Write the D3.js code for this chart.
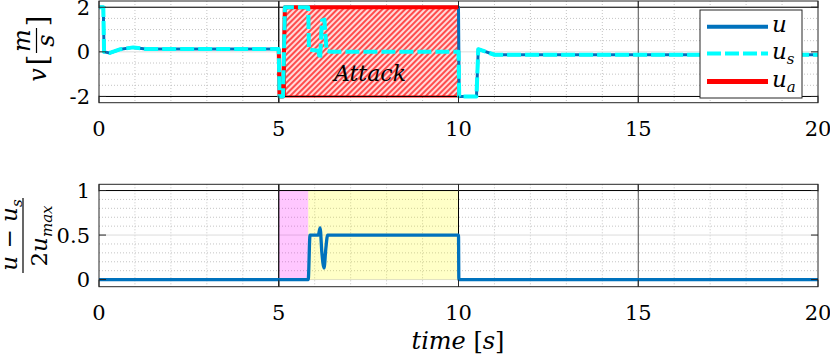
<!DOCTYPE html>
<html>
<head>
<meta charset="utf-8">
<script src="https://cdn.jsdelivr.net/npm/d3@7"></script>
<style>
  html, body { margin: 0; padding: 0; background: #fff; }
  svg { display: block; }
</style>
</head>
<body>
<svg id="chart" width="830" height="359"></svg>
<script>
// time axis
const xTicks = [0, 5, 10, 15, 20];
const xMinor = [1, 2, 3, 4, 6, 7, 8, 9, 11, 12, 13, 14, 16, 17, 18, 19];

// top panel: velocity commands
const vTicks = [-2, 0, 2];
const vMinor = [-1.5, -1, -0.5, 0.5, 1, 1.5];
const uData = [[0, 2], [0.12, 2], [0.14, 0], [0.3, -0.05], [0.6, 0.12], [0.95, 0.2], [1.3, 0.13],
  [5.0, 0.13], [5.02, -2], [5.12, -2], [5.17, 2], [10, 2], [10.02, -2], [10.5, -2],
  [10.55, 0.12], [11.0, -0.13], [20, -0.13]];
const usData = [[0, 2], [0.12, 2], [0.14, 0], [0.3, -0.05], [0.6, 0.12], [0.95, 0.2], [1.3, 0.13],
  [5.0, 0.13], [5.02, -2], [5.12, -2], [5.17, 2], [5.82, 2], [5.84, 0.1], [6.1, 0.05],
  [6.15, -0.32], [6.2, 1.4], [6.27, 1.45], [6.33, 0.05], [6.45, 0], [10, 0], [10.02, -2],
  [10.5, -2], [10.55, 0.12], [11.0, -0.13], [20, -0.13]];
const uaData = [[5.0, 0.13], [5.02, -2], [5.12, -2], [5.17, 2], [10, 2]];
const attackSpan = [5.17, 10];
const limitLines = [-2, 2];
const eventLines = [5, 10];

// bottom panel: normalised difference
const rTicks = [0, 0.5, 1];
const rMinor = [0.1, 0.2, 0.3, 0.4, 0.6, 0.7, 0.8, 0.9];
const diffData = [[0, 0], [5.82, 0], [5.87, 0.5], [6.1, 0.5], [6.15, 0.58], [6.2, 0.3], [6.26, 0.13],
  [6.31, 0.35], [6.36, 0.5], [10, 0.5], [10.01, 0], [20, 0]];
const delaySpan = [5, 5.82];
const detectSpan = [5.82, 10];

const svg = d3.select("#chart").style("font-family", "'DejaVu Serif'");
const blue = "#0072BD", cyan = "#00FFFF", red = "#FF0000", boxColor = "#262626";

const x = d3.scaleLinear().domain([0, 20]).range([99, 818]);
const yTop = d3.scaleLinear().domain([-2.28, 2.28]).range([102.7, 1]);
const yBot = d3.scaleLinear().domain([-0.08, 1.07]).range([286.7, 184.3]);

const defs = svg.append("defs");
const hatch = defs.append("pattern")
  .attr("id", "hatch")
  .attr("patternUnits", "userSpaceOnUse")
  .attr("width", 4).attr("height", 4)
  .attr("patternTransform", "rotate(45)");
hatch.append("rect").attr("width", 4).attr("height", 4).attr("fill", "#ffd9d9");
hatch.append("line").attr("x1", 1).attr("x2", 1).attr("y1", 0).attr("y2", 4)
  .attr("stroke", red).attr("stroke-width", 1.3);

function panel(y, ticks, minor, id) {
  const [y0, y1] = y.range();
  defs.append("clipPath").attr("id", id)
    .append("rect").attr("x", 99).attr("y", y1).attr("width", 719).attr("height", y0 - y1);
  const g = svg.append("g");
  // minor grid
  g.selectAll(".mx").data(xMinor).join("line")
    .attr("x1", d => x(d)).attr("x2", d => x(d)).attr("y1", y1).attr("y2", y0)
    .attr("stroke", "#c4c4c4").attr("stroke-dasharray", "1,2");
  g.selectAll(".my").data(minor).join("line")
    .attr("x1", 99).attr("x2", 818).attr("y1", d => y(d)).attr("y2", d => y(d))
    .attr("stroke", "#c4c4c4").attr("stroke-dasharray", "1,2");
  // major grid
  g.selectAll(".gy").data(ticks).join("line")
    .attr("x1", 99).attr("x2", 818).attr("y1", d => y(d)).attr("y2", d => y(d))
    .attr("stroke", "#dcdcdc");
  g.selectAll(".gx").data(xTicks.slice(1, -1)).join("line")
    .attr("x1", d => x(d)).attr("x2", d => x(d)).attr("y1", y1).attr("y2", y0)
    .attr("stroke", "#4a4a4a");
  return g;
}

function frame(y, ticks) {
  const [y0, y1] = y.range();
  const g = svg.append("g");
  g.append("rect").attr("x", 99).attr("y", y1).attr("width", 719).attr("height", y0 - y1)
    .attr("fill", "none").attr("stroke", boxColor).attr("stroke-width", 1);
  ticks.forEach(t => {
    g.append("line").attr("x1", 99).attr("x2", 106).attr("y1", y(t)).attr("y2", y(t)).attr("stroke", boxColor);
    g.append("line").attr("x1", 811).attr("x2", 818).attr("y1", y(t)).attr("y2", y(t)).attr("stroke", boxColor);
    g.append("text").attr("x", 90).attr("y", y(t) + 7.5).attr("text-anchor", "end")
      .attr("font-size", 21).attr("fill", "#000").text(t);
  });
  xTicks.forEach(t => {
    g.append("line").attr("x1", x(t)).attr("x2", x(t)).attr("y1", y0).attr("y2", y0 - 7).attr("stroke", boxColor);
    g.append("line").attr("x1", x(t)).attr("x2", x(t)).attr("y1", y1).attr("y2", y1 + 7).attr("stroke", boxColor);
    g.append("text").attr("x", x(t)).attr("y", y0 + 33).attr("text-anchor", "middle")
      .attr("font-size", 21).attr("fill", "#000").text(t);
  });
}

// ---------- top panel ----------
panel(yTop, vTicks, vMinor, "clipTop");
const topPlot = svg.append("g").attr("clip-path", "url(#clipTop)");

topPlot.append("rect")
  .attr("x", x(attackSpan[0])).attr("y", yTop(2))
  .attr("width", x(attackSpan[1]) - x(attackSpan[0])).attr("height", yTop(-2) - yTop(2))
  .attr("fill", "url(#hatch)").attr("stroke", red).attr("stroke-width", 2)
  .attr("stroke-linejoin", "round");

topPlot.selectAll(".lim").data(limitLines).join("line")
  .attr("x1", 99).attr("x2", 818).attr("y1", d => yTop(d)).attr("y2", d => yTop(d))
  .attr("stroke", "#000").attr("stroke-width", 1);
topPlot.selectAll(".ev").data(eventLines).join("line")
  .attr("x1", d => x(d)).attr("x2", d => x(d)).attr("y1", 1).attr("y2", 102.7)
  .attr("stroke", "#000").attr("stroke-width", 1);

topPlot.append("text")
  .attr("x", 370).attr("y", 81).attr("text-anchor", "middle")
  .attr("font-size", 22).attr("font-style", "italic").attr("fill", "#000").text("Attack");

const lineTop = d3.line().x(d => x(d[0])).y(d => yTop(d[1]));
topPlot.append("path").datum(uData).attr("d", lineTop)
  .attr("fill", "none").attr("stroke", blue).attr("stroke-width", 3).attr("stroke-linejoin", "round");
topPlot.append("path").datum(uaData).attr("d", lineTop)
  .attr("fill", "none").attr("stroke", red).attr("stroke-width", 4).attr("stroke-linejoin", "round");
topPlot.append("path").datum(usData).attr("d", lineTop)
  .attr("fill", "none").attr("stroke", cyan).attr("stroke-width", 4)
  .attr("stroke-dasharray", "14,4").attr("stroke-linejoin", "round");

frame(yTop, vTicks);

// legend
const legend = svg.append("g");
legend.append("rect").attr("x", 700).attr("y", 10).attr("width", 102).attr("height", 88)
  .attr("fill", "#fff").attr("stroke", boxColor).attr("stroke-width", 1);
const legendItems = [
  { label: "u", sub: "", color: blue, width: 4, dash: null, y: 26.7 },
  { label: "u", sub: "s", color: cyan, width: 4, dash: "14,4", y: 53.5 },
  { label: "u", sub: "a", color: red, width: 5, dash: null, y: 81.5 }
];
legendItems.forEach(d => {
  legend.append("line").attr("x1", 707).attr("x2", 768).attr("y1", d.y).attr("y2", d.y)
    .attr("stroke", d.color).attr("stroke-width", d.width).attr("stroke-dasharray", d.dash);
  const t = legend.append("text").attr("x", 772).attr("y", d.y + 5)
    .attr("font-size", 23).attr("font-style", "italic").attr("fill", "#000");
  t.append("tspan").text(d.label);
  if (d.sub) t.append("tspan").attr("font-size", 15).attr("dy", 5).text(d.sub);
});

// top y label: v [m/s]
const vl = svg.append("g").attr("transform", "translate(46,52) rotate(-90)")
  .attr("font-size", 24).attr("fill", "#000");
vl.append("text").attr("x", -23).attr("y", 0).attr("text-anchor", "middle")
  .attr("font-style", "italic").text("v");
vl.append("text").attr("x", -8).attr("y", 1).attr("text-anchor", "middle").attr("font-size", 28).text("[");
vl.append("text").attr("x", 11.5).attr("y", -16).attr("text-anchor", "middle")
  .attr("font-style", "italic").text("m");
vl.append("line").attr("x1", -1).attr("x2", 24).attr("y1", -9.5).attr("y2", -9.5)
  .attr("stroke", "#000").attr("stroke-width", 1.2);
vl.append("text").attr("x", 11.5).attr("y", 8).attr("text-anchor", "middle")
  .attr("font-style", "italic").text("s");
vl.append("text").attr("x", 31).attr("y", 1).attr("text-anchor", "middle").attr("font-size", 28).text("]");

// ---------- bottom panel ----------
panel(yBot, rTicks, rMinor, "clipBot");
const botPlot = svg.append("g").attr("clip-path", "url(#clipBot)");

botPlot.append("rect")
  .attr("x", x(delaySpan[0])).attr("y", yBot(1))
  .attr("width", x(delaySpan[1]) - x(delaySpan[0])).attr("height", yBot(0) - yBot(1))
  .attr("fill", "#ff00ff").attr("fill-opacity", 0.22);
botPlot.append("rect")
  .attr("x", x(detectSpan[0])).attr("y", yBot(1))
  .attr("width", x(detectSpan[1]) - x(detectSpan[0])).attr("height", yBot(0) - yBot(1))
  .attr("fill", "#ffff00").attr("fill-opacity", 0.22);

botPlot.selectAll(".ev").data(eventLines).join("line")
  .attr("x1", d => x(d)).attr("x2", d => x(d)).attr("y1", 184.3).attr("y2", 286.7)
  .attr("stroke", "#000").attr("stroke-width", 1);
botPlot.append("line")
  .attr("x1", 99).attr("x2", 818).attr("y1", yBot(1)).attr("y2", yBot(1))
  .attr("stroke", "#000").attr("stroke-width", 1);

const lineBot = d3.line().x(d => x(d[0])).y(d => yBot(d[1])).curve(d3.curveMonotoneX);
botPlot.append("path").datum(diffData).attr("d", lineBot)
  .attr("fill", "none").attr("stroke", blue).attr("stroke-width", 3.3).attr("stroke-linejoin", "round");

frame(yBot, rTicks);

// bottom y label: (u - u_s) / (2 u_max)
const rl = svg.append("g").attr("transform", "translate(23,236) rotate(-90)")
  .attr("font-size", 23).attr("fill", "#000");
const num = rl.append("text").attr("x", 1).attr("y", -6).attr("text-anchor", "middle");
num.append("tspan").attr("font-style", "italic").text("u");
num.append("tspan").text(" \u2212 ");
num.append("tspan").attr("font-style", "italic").text("u");
num.append("tspan").attr("font-style", "italic").attr("font-size", 15).attr("dy", 5).text("s");
rl.append("line").attr("x1", -37).attr("x2", 38).attr("y1", 0).attr("y2", 0)
  .attr("stroke", "#000").attr("stroke-width", 1.2);
const den = rl.append("text").attr("x", 0).attr("y", 24).attr("text-anchor", "middle");
den.append("tspan").text("2");
den.append("tspan").attr("font-style", "italic").text("u");
den.append("tspan").attr("font-style", "italic").attr("font-size", 15).attr("dy", 5).text("max");

// x label
const xl = svg.append("text").attr("x", 458).attr("y", 349).attr("text-anchor", "middle")
  .attr("font-size", 24).attr("fill", "#000");
xl.append("tspan").attr("font-style", "italic").text("time");
xl.append("tspan").text(" [");
xl.append("tspan").attr("font-style", "italic").text("s");
xl.append("tspan").text("]");
</script>
</body>
</html>
